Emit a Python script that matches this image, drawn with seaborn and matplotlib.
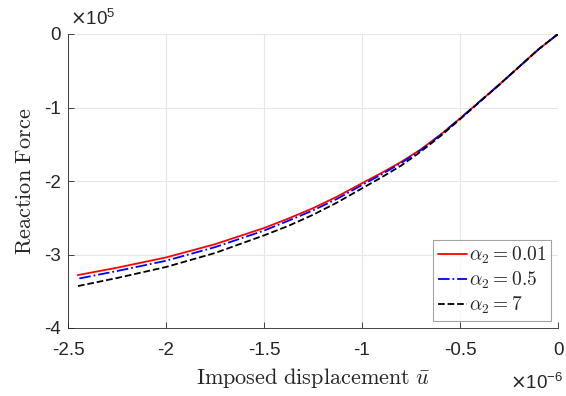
import numpy as np
import pandas as pd
import seaborn as sns
import matplotlib
matplotlib.use("Agg")
import matplotlib.pyplot as plt

# Data (x in units of 1e-6, y in units of 1e5)
u = [0.0, -0.1, -0.2, -0.3, -0.4, -0.5, -0.6, -0.7, -0.8, -0.9, -1.0,
     -1.125, -1.25, -1.375, -1.5, -1.75, -2.0, -2.25, -2.45]
f_001 = [0.0, -0.21, -0.45, -0.69, -0.92, -1.15, -1.37, -1.57, -1.74, -1.89, -2.03,
         -2.21, -2.37, -2.51, -2.64, -2.86, -3.04, -3.18, -3.28]
f_05 = [0.0, -0.21, -0.45, -0.69, -0.92, -1.15, -1.375, -1.58, -1.755, -1.91, -2.055,
        -2.24, -2.40, -2.54, -2.675, -2.90, -3.085, -3.225, -3.33]
f_7 = [0.0, -0.21, -0.45, -0.69, -0.925, -1.16, -1.39, -1.60, -1.79, -1.95, -2.10,
       -2.29, -2.46, -2.61, -2.74, -2.98, -3.17, -3.32, -3.43]
labels = [r'$\alpha_2 = 0.01$', r'$\alpha_2 = 0.5$', r'$\alpha_2 = 7$']
colors = ['#ff0000', '#0000ff', '#000000']
styles = ['-', '-.', '--']

sns.set_style("white")
plt.rcParams['font.family'] = ['Liberation Sans', 'DejaVu Sans']
plt.rcParams['mathtext.fontset'] = 'cm'

fig = plt.figure(figsize=(5.66, 3.96), dpi=100)
ax = fig.add_axes([68/566, 1-328/396, (558-68)/566, (328-34)/396])

for ys, lab, c, ls in zip([f_001, f_05, f_7], labels, colors, styles):
    df = pd.DataFrame({'u': u, 'f': ys})
    sns.lineplot(data=df, x='u', y='f', ax=ax, color=c, linestyle=ls, lw=1.3,
                 label=lab, sort=False, estimator=None)

ax.set_xlim(-2.5, 0)
ax.set_ylim(-4, 0)
ax.set_xticks([-2.5, -2, -1.5, -1, -0.5, 0])
ax.set_xticklabels(['-2.5', '-2', '-1.5', '-1', '-0.5', '0'])
ax.set_yticks([-4, -3, -2, -1, 0])
ax.set_yticklabels(['-4', '-3', '-2', '-1', '0'])
ax.grid(True, color='#e6e6e6', lw=0.8)
for s in ['top', 'right']:
    ax.spines[s].set_visible(False)
for s in ['left', 'bottom']:
    ax.spines[s].set_color('#262626')
    ax.spines[s].set_linewidth(0.6)
ax.tick_params(axis='both', labelsize=13.5, colors='#262626', direction='in',
               length=4, width=0.6, left=True, bottom=True)
ax.tick_params(axis='x', pad=10)
ax.tick_params(axis='y', pad=5)
ax.set_xlabel(r'$\mathrm{Imposed\ displacement}\ \bar{u}$', fontsize=16, color='#262626', labelpad=5)
ax.set_ylabel(r'$\mathrm{Reaction\ Force}$', fontsize=16, color='#262626', labelpad=6)

fig.text(70/566, 1-19/396, r'$\times$10$^{\mathregular{5}}$', fontsize=13.5, color='#262626',
         va='center', ha='left', math_fontfamily='dejavusans')
fig.text(563/566, 1-383/396, r'$\times$10$^{\mathregular{-6}}$', fontsize=13.5, color='#262626',
         va='center', ha='right', math_fontfamily='dejavusans')

leg = ax.legend(loc='lower right', fontsize=14, frameon=True, fancybox=False,
                edgecolor='#8c8c8c', handlelength=1.5, handletextpad=0.1,
                borderpad=0.25, labelspacing=0.2, borderaxespad=0.35)
leg.get_frame().set_linewidth(0.8)

fig.savefig('out.png', dpi=100)
